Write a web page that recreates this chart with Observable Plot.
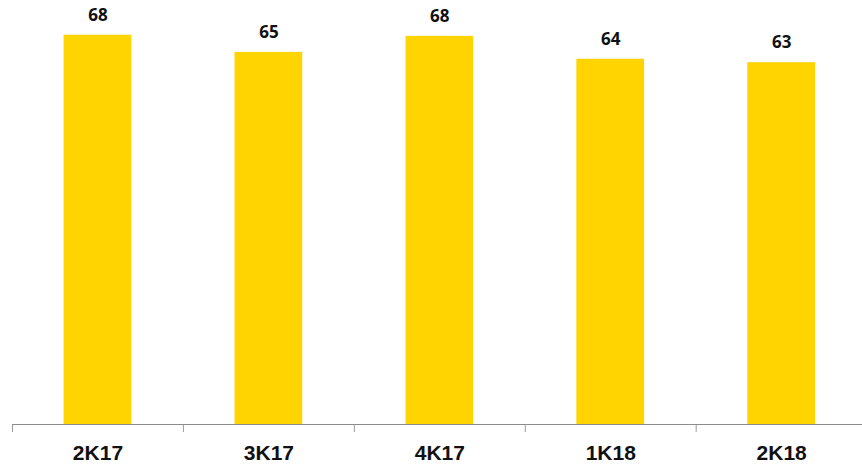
<!DOCTYPE html>
<html>
<head>
<meta charset="utf-8">
<script src="https://cdn.jsdelivr.net/npm/d3@7"></script>
<script src="https://cdn.jsdelivr.net/npm/@observablehq/plot@0.6"></script>
<style>
  html, body { margin: 0; padding: 0; background: #fff; overflow: hidden; }
  #chart svg { display: block; }
</style>
</head>
<body>
<div id="chart"></div>
<script>
const categories = ["2K17", "3K17", "4K17", "1K18", "2K18"];
const values = [68.0, 65.0, 67.8, 63.8, 63.2];
const labels = ["68", "65", "68", "64", "63"];

const data = categories.map((c, i) => ({ i, category: c, value: values[i], label: labels[i] }));
const boundaries = d3.range(categories.length + 1);
const centers = d3.range(categories.length).map(i => i + 0.5);

const chart = Plot.plot({
  width: 862,
  height: 468,
  marginLeft: 12,
  marginRight: -4.6,
  marginTop: 23.25,
  marginBottom: 44,
  style: { fontFamily: "'Liberation Sans', Arial, sans-serif", background: "#fff", overflow: "visible" },
  x: { type: "linear", domain: [0, categories.length] },
  y: { domain: [0, 70] },
  marks: [
    Plot.rectY(data, { x1: "i", x2: d => d.i + 1, y: "value", fill: "#FFD400", insetLeft: 51.6, insetRight: 51.6 }),
    Plot.text(data, {
      x: d => d.i + 0.5, y: "value", text: "label",
      dy: -20, lineAnchor: "middle",
      fontFamily: "'Open Sans', sans-serif", fontWeight: 700, fontSize: 17, fill: "#111"
    }),
    Plot.axisY({ ticks: [], label: null }),
    Plot.axisX({ ticks: boundaries, tickFormat: () => "", tickSize: 8, stroke: "#9a9a9a", label: null }),
    Plot.axisX({
      ticks: centers, tickFormat: d => categories[Math.floor(d)], tickSize: 0, tickPadding: 21,
      fontSize: 21, fontWeight: 700, fill: "#111", label: null
    }),
    Plot.ruleY([0], { stroke: "#8c8c8c", strokeWidth: 1.2 })
  ]
});
document.getElementById("chart").append(chart);
</script>
</body>
</html>
